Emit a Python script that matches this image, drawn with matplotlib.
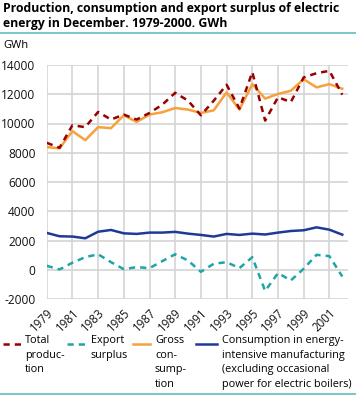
import matplotlib
matplotlib.use("Agg")
import matplotlib.pyplot as plt
from matplotlib.lines import Line2D

plt.rcParams['font.family'] = ['Open Sans', 'DejaVu Sans']

# data (GWh, December values)
years = list(range(1979, 2003))
total_production = [8680, 8340, 9880, 9750, 10790, 10270, 10610, 10270, 10720, 11290,
                    12100, 11560, 10560, 11560, 12650, 11020, 13510, 10200, 11790, 11470,
                    13150, 13440, 13600, 11970]
export_surplus = [270, 20, 480, 860, 1060, 520, 40, 180, 110, 590,
                  1060, 630, -140, 410, 520, 110, 860, -1450, -230, -730,
                  70, 1020, 930, -460]
gross_consumption = [8390, 8300, 9480, 8860, 9750, 9680, 10560, 10110, 10610, 10770,
                     11060, 10950, 10720, 10900, 12130, 10950, 12690, 11700, 12020, 12240,
                     13030, 12470, 12690, 12380]
energy_intensive = [2520, 2290, 2270, 2150, 2600, 2720, 2490, 2450, 2540, 2540,
                    2590, 2470, 2380, 2270, 2450, 2380, 2470, 2410, 2540, 2650,
                    2700, 2900, 2740, 2400]
tick_years = list(range(1979, 2002, 2))
y_ticks = [-2000, 0, 2000, 4000, 6000, 8000, 10000, 12000, 14000]

c_total = '#990000'
c_export = '#1fa5a5'
c_gross = '#f7a03c'
c_blue = '#1f3a96'
c_grid = '#d4d4d4'
c_rule = '#5fbfbf'

W, H = 356, 396
fig = plt.figure(figsize=(W / 100, H / 100), dpi=100)

# plot area in pixels: left 46.7, right 347.7, top 65, bottom 299
ax = fig.add_axes([46.7 / W, 1 - 299 / H, (347.7 - 46.7) / W, (299 - 65) / H])
ax.set_xlim(1979, 1979 + (347.7 - 46.7) / 12.85)
ax.set_ylim(-2000, 14000)

ax.plot(years, energy_intensive, color=c_blue, lw=1.8, zorder=3)
ax.plot(years, gross_consumption, color=c_gross, lw=1.8, zorder=3)
ax.plot(years, export_surplus, color=c_export, lw=1.8, ls=(0, (2.5, 2)), zorder=3)
ax.plot(years, total_production, color=c_total, lw=1.8, ls=(0, (2.5, 2)), zorder=4)

ax.set_xticks(tick_years)
ax.set_xticklabels([str(y) for y in tick_years], rotation=45, ha='right',
                   rotation_mode='anchor', fontsize=8.3)
ax.set_yticks(y_ticks)
ax.set_yticklabels([str(v) for v in y_ticks], fontsize=8.6)
ax.tick_params(axis='y', length=0, pad=8, colors='#111111')
ax.tick_params(axis='x', length=0, pad=5, colors='#111111')
ax.grid(True, color=c_grid, lw=1.2)
ax.set_axisbelow(True)
for s in ax.spines.values():
    s.set_visible(False)

# title and rules
fig.text(3 / W, 1 - 2 / H, 'Production, consumption and export surplus of electric\n'
         'energy in December. 1979-2000. GWh', fontsize=8.85, fontweight='bold',
         va='top', ha='left', linespacing=1.15)
fig.add_artist(Line2D([0, 1], [1 - 32.5 / H] * 2, color=c_rule, lw=1.2))
fig.add_artist(Line2D([0, 1], [1 - 393.5 / H] * 2, color=c_rule, lw=1.2))
fig.text(3 / W, 1 - 46 / H, 'GWh', fontsize=8, va='center', ha='left')

# legend
legend_items = [
    (3, 24, 25, c_total, (0, (2.5, 2)), 'Total\nproduc-\ntion'),
    (67, 89, 91, c_export, (0, (2.5, 2)), 'Export\nsurplus'),
    (133, 150, 155, c_gross, '-', 'Gross\ncon-\nsump-\ntion'),
    (196, 217, 222, c_blue, '-', 'Consumption in energy-\nintensive manufacturing\n'
                                 '(excluding occasional\npower for electric boilers)'),
]
for x0, x1, xt, col, ls, label in legend_items:
    fig.add_artist(Line2D([x0 / W, x1 / W], [1 - 343.5 / H] * 2, color=col, lw=1.8, ls=ls))
    fig.text(xt / W, 1 - 335 / H, label, fontsize=7.85, va='top', ha='left',
             linespacing=1.45)

fig.savefig('out.png', dpi=100)
